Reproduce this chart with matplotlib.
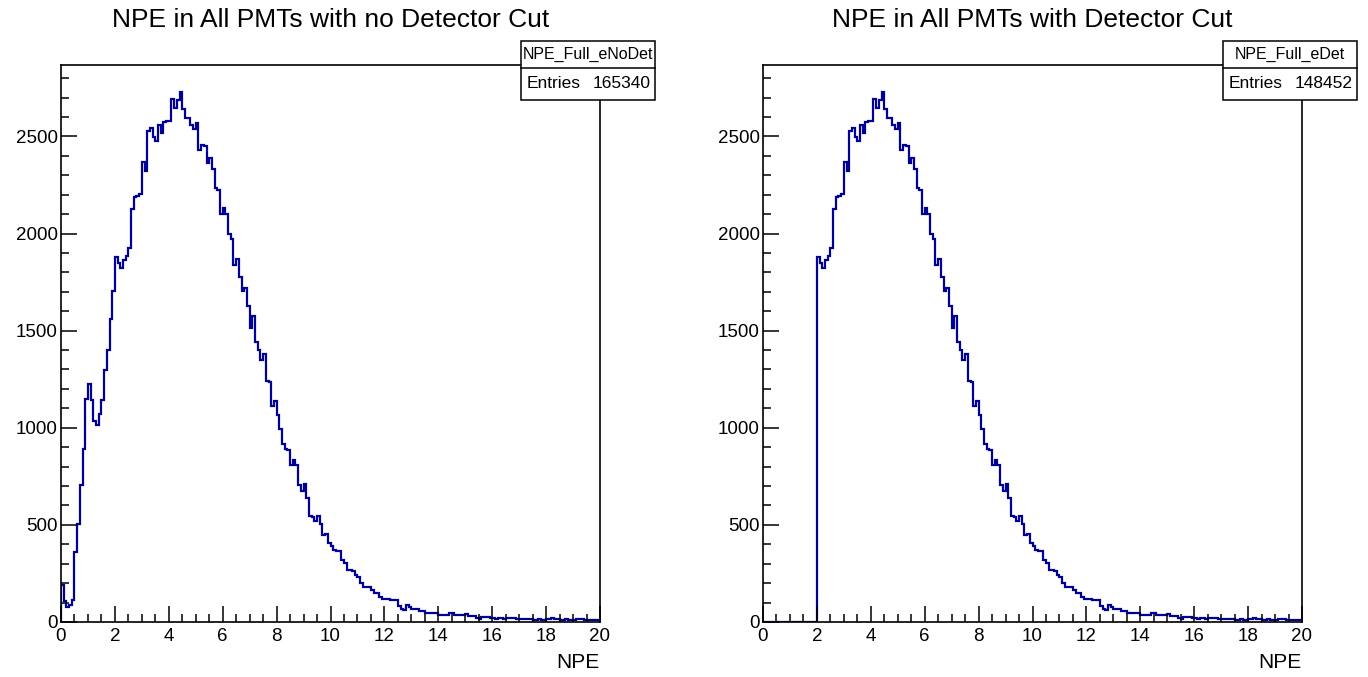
import numpy as np
import matplotlib.pyplot as plt
from matplotlib.patches import Rectangle
from matplotlib.lines import Line2D
from matplotlib.ticker import MultipleLocator

plt.rcParams['font.family'] = ['Liberation Sans', 'DejaVu Sans']

# 200 bins of width 0.1 between 0 and 20 NPE
bin_edges = np.linspace(0, 20, 201)

counts_nodet = [
    190, 110, 77, 88, 113, 362, 505, 703, 892, 1150,
    1227, 1144, 1033, 1015, 1072, 1144, 1299, 1402, 1560, 1703,
    1878, 1849, 1823, 1866, 1883, 1923, 2127, 2187, 2193, 2201,
    2368, 2321, 2528, 2541, 2499, 2476, 2559, 2519, 2574, 2579,
    2579, 2691, 2648, 2688, 2731, 2643, 2593, 2593, 2557, 2536,
    2567, 2430, 2455, 2450, 2364, 2387, 2333, 2236, 2224, 2098,
    2132, 2098, 1998, 1974, 1840, 1871, 1777, 1706, 1717, 1626,
    1514, 1577, 1442, 1399, 1351, 1380, 1239, 1235, 1110, 1136,
    1067, 995, 916, 892, 887, 809, 832, 809, 706, 672,
    710, 638, 546, 543, 522, 548, 505, 448, 454, 406,
    390, 370, 366, 366, 320, 305, 270, 268, 262, 240,
    230, 200, 178, 180, 182, 165, 150, 148, 128, 120,
    118, 119, 112, 115, 113, 80, 65, 62, 88, 76,
    67, 68, 66, 58, 57, 46, 45, 47, 44, 45,
    36, 37, 35, 36, 48, 47, 36, 35, 37, 34,
    40, 31, 30, 31, 19, 18, 27, 27, 26, 19,
    20, 18, 19, 20, 18, 22, 23, 21, 22, 15,
    14, 16, 15, 14, 15, 12, 11, 13, 12, 11,
    18, 17, 19, 18, 17, 12, 11, 13, 12, 12,
    11, 15, 14, 15, 10, 11, 9, 10, 11, 10,
]

# detector cut removes everything below 2 NPE
det_threshold = 2.0
counts_det = np.where(bin_edges[:-1] >= det_threshold - 1e-9, counts_nodet, 0)

titles = ["NPE in All PMTs with no Detector Cut", "NPE in All PMTs with Detector Cut"]
hist_names = ["NPE_Full_eNoDet", "NPE_Full_eDet"]
entries = ["165340", "148452"]
all_counts = [counts_nodet, counts_det]

W, H = 1368, 677
fig = plt.figure(figsize=(W / 100, H / 100), dpi=100)

ax_lefts = [61, 763]
ax_w = 539
ax_top, ax_bot = 65, 622

for k in range(2):
    x0 = ax_lefts[k]
    ax = fig.add_axes([x0 / W, 1 - ax_bot / H, ax_w / W, (ax_bot - ax_top) / H])
    ax.stairs(all_counts[k], bin_edges, color='#000099', lw=1.6)
    ax.set_xlim(0, 20)
    ax.set_ylim(0, 1.05 * max(all_counts[k]))
    ax.xaxis.set_major_locator(MultipleLocator(2))
    ax.xaxis.set_minor_locator(MultipleLocator(0.5))
    ax.yaxis.set_major_locator(MultipleLocator(500))
    ax.yaxis.set_minor_locator(MultipleLocator(100))
    ax.tick_params(which='both', direction='in', top=False, right=False,
                   labelsize=13.5, width=1.1)
    ax.tick_params(axis='x', pad=4.5)
    ax.tick_params(axis='y', pad=2.5)
    ax.tick_params(which='major', length=11.5)
    ax.tick_params(which='minor', length=5.8)
    for sp in ax.spines.values():
        sp.set_linewidth(1.2)

    # title and axis label
    fig.text((x0 + ax_w / 2) / W, 1 - 20 / H, titles[k], fontsize=19,
             ha='center', va='center')
    fig.text((x0 + ax_w) / W, 1 - 662 / H, "NPE", fontsize=15,
             ha='right', va='center')

    # stat box
    bx0 = x0 + 460
    bx1 = x0 + 594
    by_top, by_mid, by_bot = 41, 68, 100
    fig.add_artist(Rectangle((bx0 / W, 1 - by_bot / H), (bx1 - bx0) / W,
                             (by_bot - by_top) / H, transform=fig.transFigure,
                             facecolor='white', edgecolor='black', lw=1.1,
                             zorder=5))
    fig.add_artist(Line2D([bx0 / W, bx1 / W], [1 - by_mid / H, 1 - by_mid / H],
                          transform=fig.transFigure, color='black', lw=1.1,
                          zorder=6))
    fig.text((bx0 + bx1) / 2 / W, 1 - (by_top + by_mid) / 2 / H, hist_names[k],
             fontsize=11.5, ha='center', va='center', zorder=7)
    fig.text((bx0 + 6) / W, 1 - (by_mid + by_bot) / 2 / H, "Entries",
             fontsize=12.5, ha='left', va='center', zorder=7)
    fig.text((bx1 - 4) / W, 1 - (by_mid + by_bot) / 2 / H, entries[k],
             fontsize=12.5, ha='right', va='center', zorder=7)

fig.savefig("out.png", dpi=100)
